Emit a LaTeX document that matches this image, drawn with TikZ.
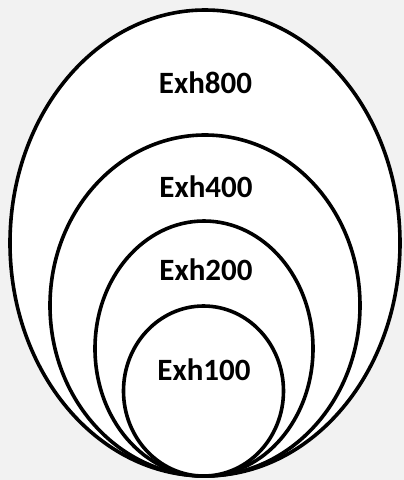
\documentclass[tikz,border=0pt]{standalone}
\usepackage{fontspec}
\setmainfont{Carlito}
\begin{document}
\begin{tikzpicture}[x=1pt,y=-1pt,
  ring/.style={draw=black,line width=3.6pt,fill=white},
  lbl/.style={font=\fontsize{31}{31}\selectfont\bfseries,inner sep=0pt}]
\fill[fill=black!5] (0,0) rectangle (404,480);
\useasboundingbox (0,0) rectangle (404,480);
\draw[ring] (205,243) ellipse[x radius=195,y radius=233];
\draw[ring] (205,305.5) ellipse[x radius=155,y radius=170.5];
\draw[ring] (204,348.5) ellipse[x radius=109,y radius=127.5];
\draw[ring] (203.5,391) ellipse[x radius=80,y radius=85];
\node[lbl] (e800) at (205.5,83) {Exh800};
\node[lbl] (e400) at (206,187) {Exh400};
\node[lbl] (e200) at (206,270) {Exh200};
\node[lbl] (e100) at (204,370) {Exh100};
\end{tikzpicture}
\end{document}
